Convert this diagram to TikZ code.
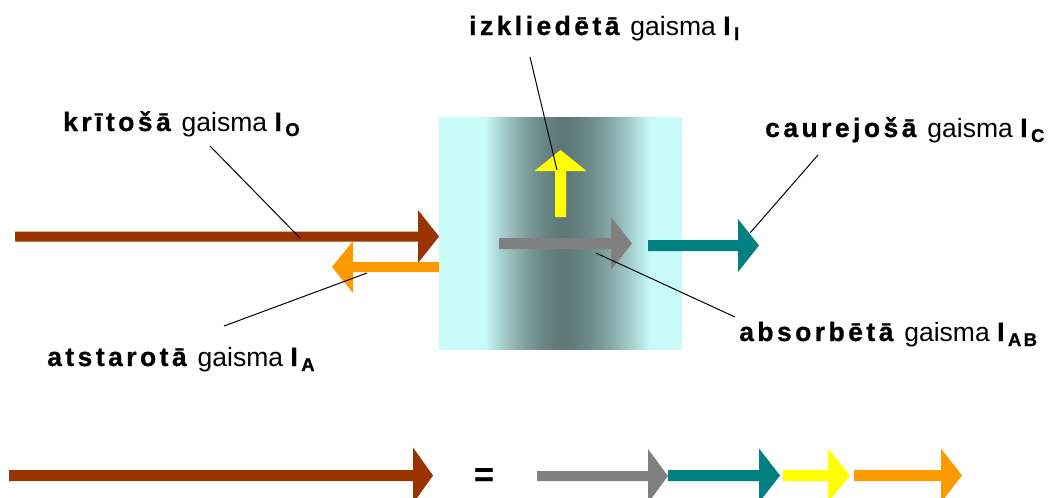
\documentclass[tikz,border=0pt]{standalone}
\usepackage{fontspec}
\setmainfont{Liberation Sans}[BoldFeatures={LetterSpace=13,FakeBold=0.8}]
\definecolor{brownlight}{HTML}{993300}
\definecolor{orangelight}{HTML}{FF9900}
\definecolor{greylight}{HTML}{808080}
\definecolor{teallight}{HTML}{008080}
\definecolor{yellowlight}{HTML}{FFFF00}
\definecolor{slabpale}{RGB}{200,250,248}
\definecolor{slabdark}{RGB}{94,120,120}
% horizontal block arrow: colour, tail x, head-base x, tip x, axis y, shaft half-width, head half-width
\newcommand\hblock[7]{%
  \fill[#1] (#2,#5-#6) -- (#3,#5-#6) -- (#3,#5-#7) -- (#4,#5)
    -- (#3,#5+#7) -- (#3,#5+#6) -- (#2,#5+#6) -- cycle;}
% vertical block arrow: colour, axis x, tail y, head-base y, tip y, shaft half-width, head half-width
\newcommand\vblock[7]{%
  \fill[#1] (#2-#6,#3) -- (#2-#6,#4) -- (#2-#7,#4) -- (#2,#5)
    -- (#2+#7,#4) -- (#2+#6,#4) -- (#2+#6,#3) -- cycle;}
\newcommand\lsub[1]{\raisebox{-5pt}{\fontsize{18.5}{18.5}\selectfont\bfseries #1}}
\begin{document}
\begin{tikzpicture}[x=1pt,y=-1pt,
  lbl/.style={anchor=base west, inner sep=0pt, font=\fontsize{26.5}{30}\selectfont},
  leader/.style={draw=black, line width=1pt}]
\useasboundingbox (0,0) rectangle (1061,498);

% absorbing slab: pale block, darkening towards its middle in thin vertical strips
\node[name=slab, fill=slabpale, draw=none, inner sep=0pt,
      minimum width=243pt, minimum height=233pt] at (560.5,233.5) {};
\foreach \i in {485,...,650}{
  \pgfmathsetmacro\d{(\i < 563) ? (563-\i)/78 : (\i-563)/87}
  \pgfmathsetmacro\q{max(0,min(100,100*(1-\d^1.6)))}
  \fill[slabdark!\q!slabpale] (\i,117) rectangle (\i+1.3,350);
}

% light arrows at the slab
\hblock{brownlight}{15}{418}{439}{236.5}{5}{26.5}
\hblock{orangelight}{439}{353}{332}{267}{5}{26}
\hblock{greylight}{499}{611}{632}{243.5}{5.5}{26.5}
\hblock{teallight}{648}{738}{759}{245.5}{5.5}{26.5}
\vblock{yellowlight}{560.5}{217}{171}{150}{5.5}{26}

% labels
\node[lbl] (lIz) at (469,35) {\textbf{izkliedētā} gaisma \textbf{I}\lsub{I}};
\node[lbl] (lKr) at (63,131) {\textbf{krītošā} gaisma \textbf{I}\lsub{O}};
\node[lbl] (lAt) at (47,366) {\textbf{atstarotā} gaisma \textbf{I}\lsub{A}};
\node[lbl] (lCa) at (765,137) {\textbf{caurejošā} gaisma \textbf{I}\lsub{C}};
\node[lbl] (lAb) at (739,341) {\textbf{absorbētā} gaisma \textbf{I}\lsub{AB}};

% leader lines
\coordinate (kr1) at (210,146); \coordinate (kr2) at (300,238);
\coordinate (at1) at (224,326); \coordinate (at2) at (367,273);
\coordinate (iz1) at (530,57);  \coordinate (iz2) at (557,170);
\coordinate (ab1) at (735,317); \coordinate (ab2) at (596,253);
\coordinate (ca1) at (818,155); \coordinate (ca2) at (750,233);
\draw[leader] (kr1) -- (kr2);
\draw[leader] (at1) -- (at2);
\draw[leader] (iz1) -- (iz2);
\draw[leader] (ab1) -- (ab2);
\draw[leader] (ca1) -- (ca2);

% energy balance
\hblock{brownlight}{9}{413}{433}{475.5}{5.5}{28}
\node[name=eq, inner sep=0pt, font=\fontsize{34}{34}\selectfont\bfseries] at (484,477) {=};
\hblock{greylight}{537}{648}{668}{476}{5}{27}
\hblock{teallight}{668}{759}{780}{475.5}{5.5}{27}
\hblock{yellowlight}{783}{828}{850}{475.5}{5.5}{27}
\hblock{orangelight}{854}{941}{962}{475.5}{5.5}{27}
\end{tikzpicture}
\end{document}
